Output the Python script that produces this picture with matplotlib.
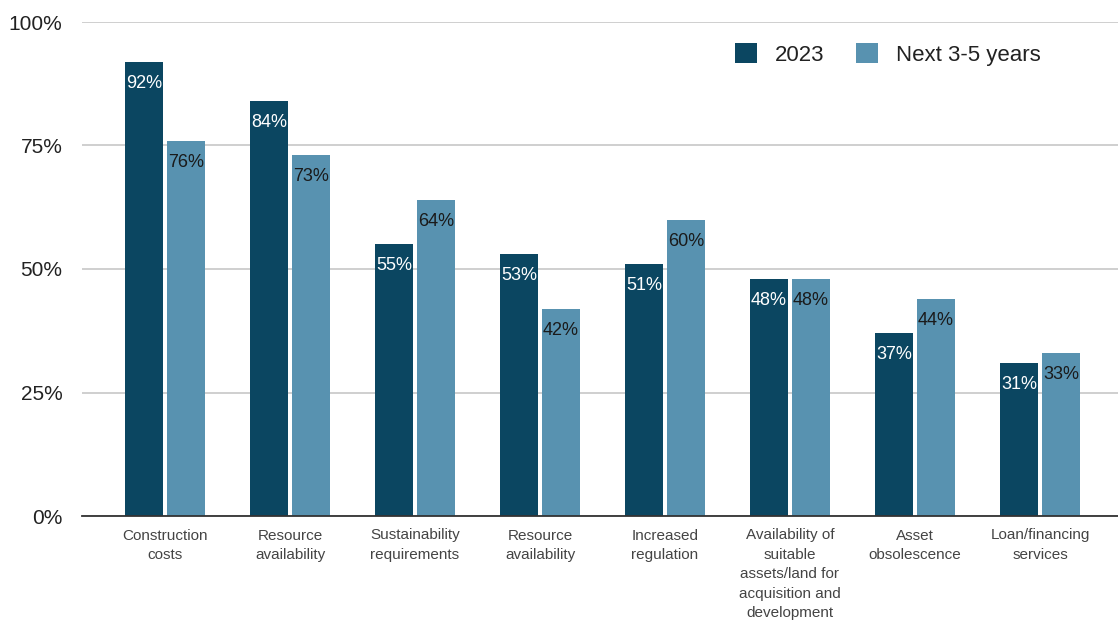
import matplotlib.pyplot as plt
import numpy as np

plt.rcParams['font.family'] = ['Liberation Sans', 'DejaVu Sans']

categories = ["Construction\ncosts", "Resource\navailability", "Sustainability\nrequirements",
              "Resource\navailability", "Increased\nregulation",
              "Availability of\nsuitable\nassets/land for\nacquisition and\ndevelopment",
              "Asset\nobsolescence", "Loan/financing\nservices"]
values_2023 = [92, 84, 55, 53, 51, 48, 37, 31]
values_next = [76, 73, 64, 42, 60, 48, 44, 33]
series_names = ["2023", "Next 3-5 years"]

dark = "#0b4661"
light = "#5892b0"

fig = plt.figure(figsize=(11.18, 6.21), dpi=100)
ax = fig.add_axes([82 / 1118, 105 / 621, 1036 / 1118, 494 / 621])

x = np.arange(len(categories))
w = 0.304
off = 0.168
b1 = ax.bar(x - off, values_2023, w, color=dark, label=series_names[0], zorder=3)
b2 = ax.bar(x + off, values_next, w, color=light, label=series_names[1], zorder=3)

for bars, vals, col in [(b1, values_2023, "white"), (b2, values_next, "#1a1a1a")]:
    for rect, v in zip(bars, vals):
        ax.annotate(f"{v}%", (rect.get_x() + rect.get_width() / 2, v),
                    xytext=(0, -15.5), textcoords="offset points",
                    ha="center", va="center", fontsize=13, color=col, zorder=4)

ax.set_xlim(-0.664, 7.624)
ax.set_ylim(0, 100)
ax.set_yticks([0, 25, 50, 75, 100])
ax.set_yticklabels(["0%", "25%", "50%", "75%", "100%"], fontsize=15, color="#222222")
ax.set_xticks(x)
ax.set_xticklabels(categories, fontsize=11, color="#444444", linespacing=1.5)
ax.tick_params(axis="both", length=0)
ax.tick_params(axis="x", pad=9)
ax.tick_params(axis="y", pad=14)
ax.yaxis.grid(True, color="#cccccc", linewidth=1.3, zorder=0)
for s in ["top", "right", "left"]:
    ax.spines[s].set_visible(False)
ax.spines["bottom"].set_color("#333333")
ax.spines["bottom"].set_linewidth(1.3)
ax.spines["bottom"].set_zorder(5)

ax.legend(loc="upper right", bbox_to_anchor=(0.945, 0.997), frameon=False, fontsize=16,
          handlelength=1.0, handleheight=1.0, handletextpad=0.8, columnspacing=1.45,
          ncol=2, labelcolor="#222222")

fig.savefig("out.png", dpi=100)
